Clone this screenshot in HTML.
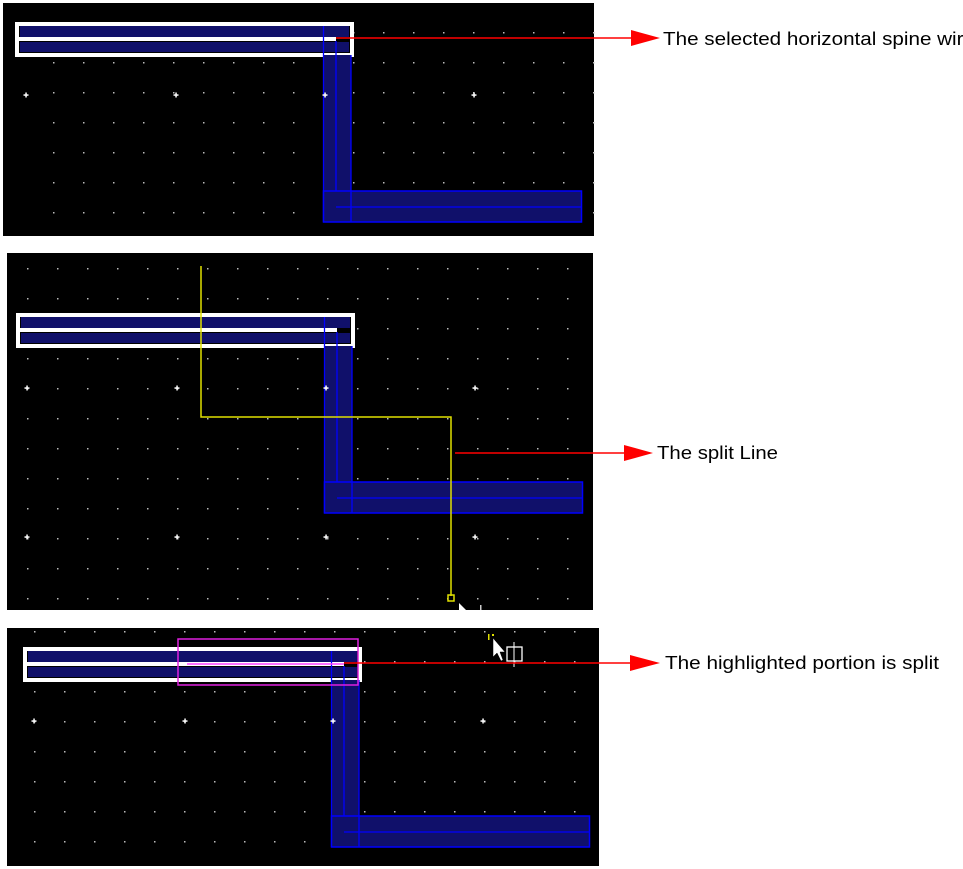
<!DOCTYPE html>
<html><head><meta charset="utf-8"><style>
html,body{margin:0;padding:0;background:#fff;width:963px;height:869px;overflow:hidden}
svg{display:block}
text{font-family:"Liberation Sans",Arial,sans-serif;font-size:18.5px;fill:#000}
</style></head><body>
<svg width="963" height="869" viewBox="0 0 963 869" xmlns="http://www.w3.org/2000/svg">
<defs>
<pattern id="d" width="30" height="30" patternUnits="userSpaceOnUse">
<rect x="0" y="0" width="1.5" height="1.5" fill="#bbbbbb"/>
</pattern>
<g id="wire">
  <rect x="17" y="24" width="335" height="31" fill="none" stroke="#fff" stroke-width="4"/>
  <rect x="20" y="26" width="329" height="11" fill="#10106a"/>
  <rect x="20" y="42" width="329" height="10" fill="#10106a"/>
  <rect x="15" y="37" width="321" height="4" fill="#fff"/>
  <rect x="323" y="55" width="28" height="137" fill="#10106a"/>
  <line x1="323.5" y1="26" x2="323.5" y2="222" stroke="#0000ff" stroke-width="1.3"/>
  <line x1="351" y1="55" x2="351" y2="222" stroke="#0000ff" stroke-width="1.3"/>
  <line x1="336" y1="41" x2="336" y2="207" stroke="#0000ff" stroke-width="1.3"/>
  <rect x="323.5" y="191" width="258" height="31" fill="#10106a" stroke="#0000ff" stroke-width="1.5"/>
  <line x1="351" y1="191" x2="351" y2="222" stroke="#0000ff" stroke-width="1.3"/>
  <line x1="336" y1="207" x2="582" y2="207" stroke="#0000ff" stroke-width="1.3"/>
</g>
<g id="plus"><rect x="-2.5" y="-0.7" width="5" height="1.5" fill="#fff"/><rect x="-0.7" y="-2.5" width="1.5" height="5" fill="#fff"/></g>
</defs>

<!-- Panel 1 -->
<rect x="3" y="3" width="591" height="233" fill="#000"/>
<rect x="3" y="3" width="591" height="233" fill="url(#d)" transform="translate(23,2)"/>
<use href="#wire"/>
<use href="#plus" x="26" y="95"/><use href="#plus" x="176" y="95"/><use href="#plus" x="325" y="95"/><use href="#plus" x="474" y="95"/>

<!-- Panel 2 -->
<rect x="7" y="253" width="586" height="357" fill="#000"/>
<svg x="7" y="253" width="586" height="357"><rect x="0" y="0" width="586" height="357" fill="url(#d)" transform="translate(20,15)"/></svg>
<g transform="translate(1,291)"><use href="#wire"/></g>
<use href="#plus" x="27" y="388"/><use href="#plus" x="177" y="388"/><use href="#plus" x="326" y="388"/><use href="#plus" x="475" y="388"/>
<use href="#plus" x="27" y="537"/><use href="#plus" x="177" y="537"/><use href="#plus" x="326" y="537"/><use href="#plus" x="475" y="537"/>
<polyline points="201,266 201,417 451,417 451,596" fill="none" stroke="#e0e000" stroke-width="1.5"/>
<rect x="448" y="595" width="6" height="6" fill="none" stroke="#e0e000" stroke-width="1.5"/>
<polygon points="459,603 459,610 466,610" fill="#fff"/>
<rect x="480" y="605" width="1.5" height="5" fill="#ccc"/>

<!-- Panel 3 -->
<rect x="7" y="628" width="592" height="238" fill="#000"/>
<svg x="7" y="628" width="592" height="238"><rect x="0" y="0" width="592" height="238" fill="url(#d)" transform="translate(27,3)"/></svg>
<g transform="translate(8,625)"><use href="#wire"/></g>
<use href="#plus" x="34" y="721"/><use href="#plus" x="185" y="721"/><use href="#plus" x="333" y="721"/><use href="#plus" x="483" y="721"/>
<rect x="178" y="639" width="180" height="46" fill="none" stroke="#e020e0" stroke-width="1.5"/>
<line x1="187" y1="664" x2="344" y2="664" stroke="#ff40ff" stroke-width="1.5"/>
<polygon points="493,638 493,657 497,653 501,661 503,660 500,652 505,652" fill="#fff" stroke="#000" stroke-width="0.5"/>
<rect x="507" y="647" width="15" height="14" fill="none" stroke="#fff" stroke-width="1.3"/>
<line x1="514" y1="642" x2="514" y2="667" stroke="#fff" stroke-width="1"/>
<rect x="488" y="634" width="1.5" height="6" fill="#e0e000"/><rect x="492" y="634" width="2" height="2" fill="#e0e000"/>

<!-- Arrows -->
<line x1="336" y1="38" x2="633" y2="38" stroke="#f00" stroke-width="1.5"/>
<polygon points="631,30 660,38 631,46" fill="#f00"/>
<text x="663" y="45" textLength="312" lengthAdjust="spacingAndGlyphs">The selected horizontal spine wire</text>

<line x1="455" y1="453" x2="627" y2="453" stroke="#f00" stroke-width="1.5"/>
<polygon points="624,445 653,453 624,461" fill="#f00"/>
<text x="657" y="459" textLength="121" lengthAdjust="spacingAndGlyphs">The split Line</text>

<line x1="344" y1="663" x2="632" y2="663" stroke="#f00" stroke-width="1.5"/>
<polygon points="630,655 660,663 630,671" fill="#f00"/>
<text x="665" y="669" textLength="274" lengthAdjust="spacingAndGlyphs">The highlighted portion is split</text>
</svg>
</body></html>
